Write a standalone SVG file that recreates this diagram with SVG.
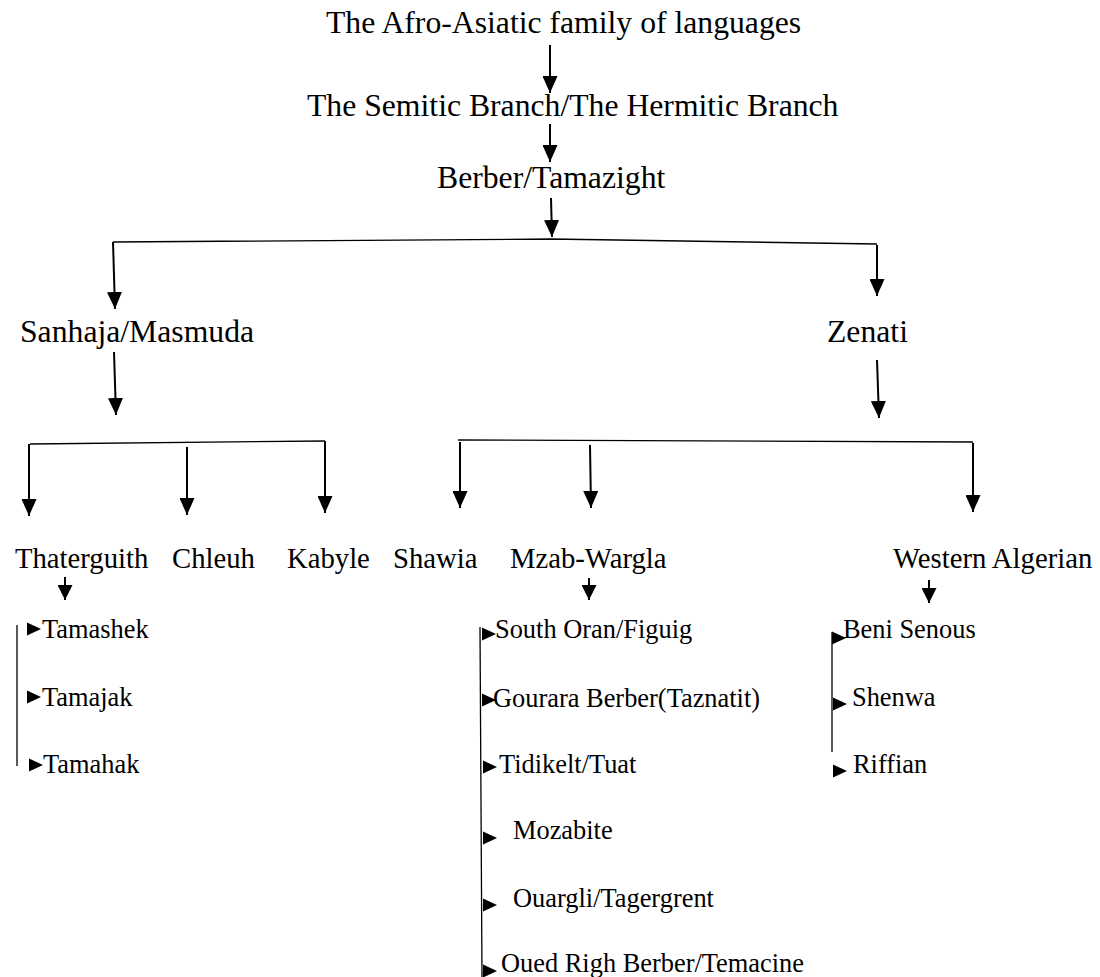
<svg xmlns="http://www.w3.org/2000/svg" xmlns:xlink="http://www.w3.org/1999/xlink" width="1100" height="977" viewBox="0 0 1100 977">
<style>
text{font-family:"Liberation Serif","Times New Roman",serif;fill:#000}
.l1{font-size:31.7px}
.l3{font-size:28.7px}
.sub{font-size:26.4px}
.arr{stroke:#000;stroke-width:2;fill:none;marker-end:url(#big)}
.sarr{stroke:#000;stroke-width:2;fill:none;marker-end:url(#small)}
.bar{stroke:#000;stroke-width:1.3;fill:none}
.tri{fill:#000}
</style>
<defs>
<marker id="big" markerUnits="userSpaceOnUse" viewBox="0 0 17 15" markerWidth="17" markerHeight="15" refX="17" refY="7.5" orient="auto">
<path d="M0,0 L17,7.5 L0,15 z" fill="#000"/>
</marker>
<marker id="small" markerUnits="userSpaceOnUse" viewBox="0 0 15 15" markerWidth="15" markerHeight="15" refX="15" refY="7.5" orient="auto">
<path d="M0,0 L15,7.5 L0,15 z" fill="#000"/>
</marker>
<path id="tri" d="M0,-6.5 L14,0 L0,6.5 z"/>
</defs>
<g id="connectors">
<line class="arr" x1="550" y1="45" x2="550" y2="93"/>
<line class="arr" x1="550" y1="124" x2="550" y2="162"/>
<line class="arr" x1="551" y1="198" x2="552" y2="237"/>
<polyline class="bar" points="113,242 551,239 877,244"/>
<line class="arr" x1="113" y1="242" x2="115" y2="309"/>
<line class="arr" x1="877" y1="245" x2="877" y2="296"/>
<line class="arr" x1="114" y1="352" x2="116" y2="415"/>
<line class="arr" x1="877" y1="360" x2="879" y2="418"/>
<line class="bar" x1="30" y1="444" x2="325" y2="441"/>
<line class="arr" x1="29" y1="444" x2="29" y2="516"/>
<line class="arr" x1="187" y1="447" x2="187" y2="515"/>
<line class="arr" x1="325" y1="441" x2="325" y2="513"/>
<line class="bar" x1="458" y1="440" x2="973" y2="442"/>
<line class="arr" x1="460" y1="442" x2="460" y2="508"/>
<line class="arr" x1="590" y1="445" x2="591" y2="508"/>
<line class="arr" x1="973" y1="443" x2="973" y2="512"/>
<line class="sarr" x1="65" y1="577" x2="65" y2="600"/>
<line class="sarr" x1="589" y1="578" x2="589" y2="600"/>
<line class="sarr" x1="929" y1="580" x2="929" y2="603"/>
<line class="bar" x1="17" y1="625" x2="17" y2="766"/>
<line class="bar" x1="480" y1="627" x2="482" y2="977"/>
<line class="bar" x1="832" y1="632" x2="832" y2="752"/>
<use class="tri" xlink:href="#tri" x="27" y="629"/>
<use class="tri" xlink:href="#tri" x="27" y="697"/>
<use class="tri" xlink:href="#tri" x="29" y="765"/>
<use class="tri" xlink:href="#tri" x="482" y="634"/>
<use class="tri" xlink:href="#tri" x="482" y="700"/>
<use class="tri" xlink:href="#tri" x="483" y="767"/>
<use class="tri" xlink:href="#tri" x="483" y="838"/>
<use class="tri" xlink:href="#tri" x="483" y="905"/>
<use class="tri" xlink:href="#tri" x="483" y="971"/>
<use class="tri" xlink:href="#tri" x="832" y="638"/>
<use class="tri" xlink:href="#tri" x="833" y="704"/>
<use class="tri" xlink:href="#tri" x="833" y="771"/>
</g>
<g id="n-afroasiatic"><text class="l1" x="326" y="33">The Afro-Asiatic family of languages</text></g>
<g id="n-semitic"><text class="l1" x="307" y="116">The Semitic Branch/The Hermitic Branch</text></g>
<g id="n-berber"><text class="l1" x="437" y="188">Berber/Tamazight</text></g>
<g id="n-sanhaja"><text class="l1" x="20" y="342">Sanhaja/Masmuda</text></g>
<g id="n-zenati"><text class="l1" x="827" y="342">Zenati</text></g>
<g id="n-thaterguith"><text class="l3" x="15" y="568">Thaterguith</text></g>
<g id="n-chleuh"><text class="l3" x="172" y="568">Chleuh</text></g>
<g id="n-kabyle"><text class="l3" x="287" y="568">Kabyle</text></g>
<g id="n-shawia"><text class="l3" x="393" y="568">Shawia</text></g>
<g id="n-mzab"><text class="l3" x="510" y="568">Mzab-Wargla</text></g>
<g id="n-western"><text class="l3" x="893" y="568">Western Algerian</text></g>
<g id="n-tamashek"><text class="sub" x="42" y="638">Tamashek</text></g>
<g id="n-tamajak"><text class="sub" x="42" y="706">Tamajak</text></g>
<g id="n-tamahak"><text class="sub" x="43" y="773">Tamahak</text></g>
<g id="n-southoran"><text class="sub" x="495" y="638">South Oran/Figuig</text></g>
<g id="n-gourara"><text class="sub" x="493" y="707">Gourara Berber(Taznatit)</text></g>
<g id="n-tidikelt"><text class="sub" x="499" y="773">Tidikelt/Tuat</text></g>
<g id="n-mozabite"><text class="sub" x="513" y="839">Mozabite</text></g>
<g id="n-ouargli"><text class="sub" x="513" y="907">Ouargli/Tagergrent</text></g>
<g id="n-ouedrigh"><text class="sub" x="501" y="972">Oued Righ Berber/Temacine</text></g>
<g id="n-benisenous"><text class="sub" x="843" y="638">Beni Senous</text></g>
<g id="n-shenwa"><text class="sub" x="852" y="706">Shenwa</text></g>
<g id="n-riffian"><text class="sub" x="853" y="773">Riffian</text></g>
</svg>
